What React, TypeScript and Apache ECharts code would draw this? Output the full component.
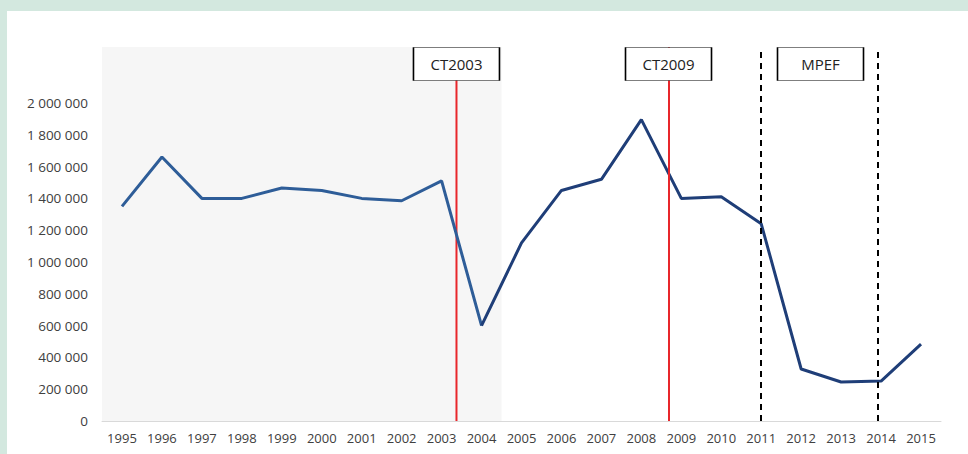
import React, { useEffect, useRef } from "react";
import * as echarts from "echarts";

const years = [
  "1995", "1996", "1997", "1998", "1999", "2000", "2001", "2002", "2003", "2004",
  "2005", "2006", "2007", "2008", "2009", "2010", "2011", "2012", "2013", "2014", "2015",
];
const traffic = [
  1350000, 1660000, 1400000, 1400000, 1465000, 1450000, 1400000, 1385000, 1510000, 600000,
  1120000, 1450000, 1520000, 1895000, 1400000, 1410000, 1240000, 327000, 245000, 251000, 484000,
];
const splitYear = "2004";
const yTicks = [0, 200000, 400000, 600000, 800000, 1000000, 1200000, 1400000, 1600000, 1800000, 2000000];
const shadedRange = [1994.5, 2004.5];
const ct2003 = { label: "CT2003", x: 2003.3725, lineTop: 2145000 };
const ct2009 = { label: "CT2009", x: 2008.6795 };
const mpef = { label: "MPEF", from: 2011.0, to: 2013.92, boxX: 2012.484 };
const boxY = 2245000;

const fmt = (v: number) => String(v).replace(/\B(?=(\d{3})+(?!\d))/g, " ");

export default function App() {
  const ref = useRef<HTMLDivElement>(null);
  useEffect(() => {
    document.body.style.margin = "0";
    if (!ref.current) return;
    const chart = echarts.init(ref.current, null, { renderer: "svg" });
    const splitIdx = years.indexOf(splitYear);
    const first = traffic.map((v, i) => (i <= splitIdx ? v : null));
    const second = traffic.map((v, i) => (i >= splitIdx ? v : null));
    const font = "'Open Sans', sans-serif";
    const red = "#E8262B";
    chart.setOption({
      animation: false,
      grid: { left: 95, right: 27, top: 36, bottom: 33 },
      xAxis: [
        {
          type: "category",
          data: years,
          boundaryGap: true,
          axisLine: { lineStyle: { color: "#D9D9D9", width: 1 } },
          axisTick: { show: false },
          axisLabel: { interval: 0, color: "#404040", fontSize: 13, fontFamily: font, margin: 10 },
        },
        { type: "value", min: 1994.5, max: 2015.5, show: false },
      ],
      yAxis: {
        type: "value",
        min: 0,
        max: 2352000,
        interval: 200000,
        axisLine: { show: false },
        axisTick: { show: false },
        splitLine: { show: false },
        axisLabel: {
          color: "#404040",
          fontSize: 13.5,
          fontFamily: font,
          margin: 14,
          formatter: (v: number) => (yTicks.includes(v) ? fmt(v) : ""),
        },
      },
      series: [
        {
          type: "line",
          xAxisIndex: 1,
          z: 1,
          symbol: "none",
          data: [
            [ct2003.x, 0],
            [ct2003.x, ct2003.lineTop],
          ],
          lineStyle: { color: red, width: 2 },
          markArea: {
            silent: true,
            itemStyle: { color: "#F6F6F6" },
            data: [[{ xAxis: shadedRange[0] }, { xAxis: shadedRange[1] }]],
          },
          markLine: {
            silent: true,
            symbol: "none",
            label: { show: false },
            data: [
              { xAxis: ct2009.x, lineStyle: { color: red, width: 2, type: "solid" } },
              { xAxis: mpef.from, lineStyle: { color: "#000", width: 2, type: [6, 5] } },
              { xAxis: mpef.to, lineStyle: { color: "#000", width: 2, type: [6, 5] } },
            ],
          },
        },
        {
          type: "line",
          xAxisIndex: 0,
          z: 3,
          data: first,
          symbol: "none",
          lineStyle: { color: "#2E5D98", width: 3 },
          connectNulls: false,
        },
        {
          type: "line",
          xAxisIndex: 0,
          z: 3,
          data: second,
          symbol: "none",
          lineStyle: { color: "#1F3E78", width: 3 },
          connectNulls: false,
        },
        {
          type: "scatter",
          xAxisIndex: 1,
          z: 5,
          symbol: "rect",
          symbolSize: [86, 33],
          itemStyle: { color: "#fff", borderColor: "#000", borderWidth: 1, opacity: 1 },
          emphasis: { disabled: true },
          label: {
            show: true,
            position: "inside",
            color: "#222",
            fontSize: 15,
            fontFamily: font,
            formatter: (p: any) => p.data.name,
          },
          data: [
            { name: ct2003.label, value: [ct2003.x, boxY] },
            { name: ct2009.label, value: [ct2009.x, boxY] },
            { name: mpef.label, value: [mpef.boxX, boxY] },
          ],
        },
      ],
    });
    return () => chart.dispose();
  }, []);
  return (
    <div style={{ position: "relative", width: 968, height: 454, background: "#D3E8DF", overflow: "hidden" }}>
      <div
        ref={ref}
        style={{ position: "absolute", left: 7, top: 11, width: 961, height: 443, background: "#fff" }}
      />
    </div>
  );
}
